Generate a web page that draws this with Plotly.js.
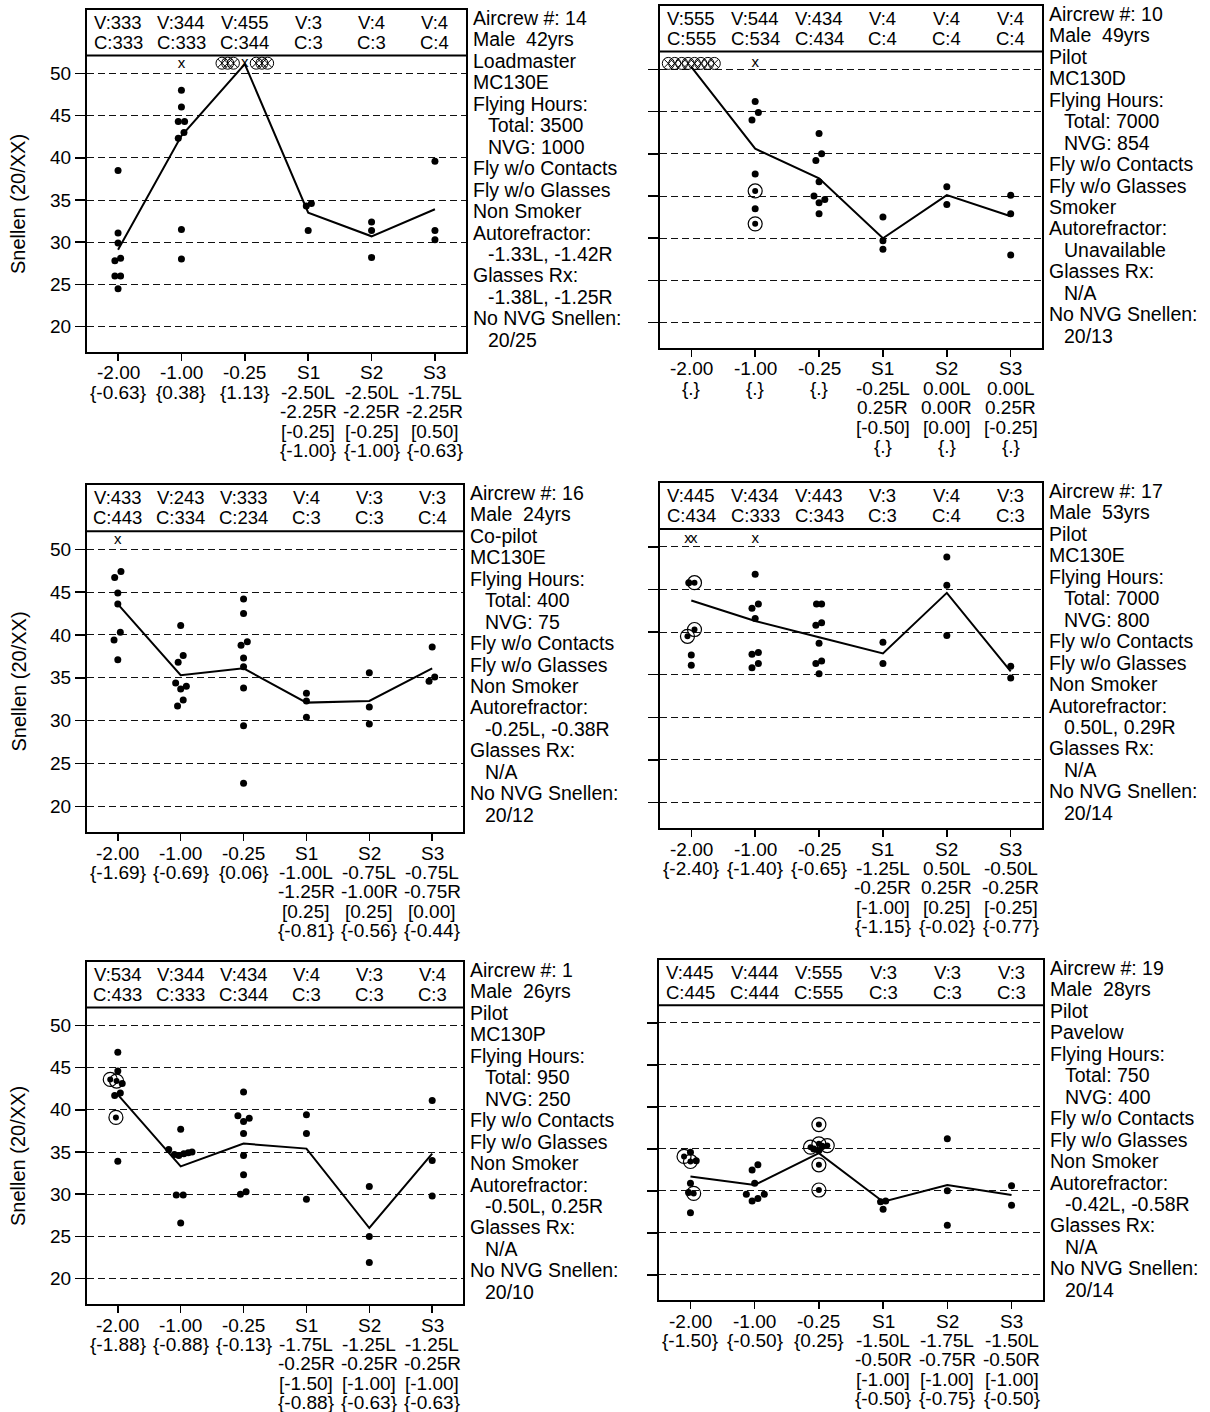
<!DOCTYPE html>
<html><head><meta charset="utf-8">
<script src="https://cdn.plot.ly/plotly-3.0.1.min.js"></script>
<style>html,body{margin:0;padding:0;background:#fff}</style>
</head><body><div id="chart" style="width:1210px;height:1412px"></div>
<script>
// ---------------- DATA ----------------
const CATS = ['-2.00','-1.00','-0.25','S1','S2','S3'];
const Y_TICKS = [20,25,30,35,40,45,50];

// Panel 1 : Aircrew 14
const p1Info = ['Aircrew #: 14','Male  42yrs','Loadmaster','MC130E','Flying Hours:','  Total: 3500','  NVG: 1000','Fly w/o Contacts','Fly w/o Glasses','Non Smoker','Autorefractor:','  -1.33L, -1.42R','Glasses Rx:','  -1.38L, -1.25R','No NVG Snellen:','  20/25'];
const p1V = ['V:333','V:344','V:455','V:3','V:4','V:4'];
const p1C = ['C:333','C:333','C:344','C:3','C:3','C:4'];
const p1XSub = [['{-0.63}'],['{0.38}'],['{1.13}'],['-2.50L','-2.25R','[-0.25]','{-1.00}'],['-2.50L','-2.25R','[-0.25]','{-1.00}'],['-1.75L','-2.25R','[0.50]','{-0.63}']];
const p1Mean = [29.1, 42.6, 51.1, 33.5, 30.7, 33.9];
// [category, value, jitter]
const p1Dots = [[0,38.5,0],[0,31.1,0],[0,29.9,0],[0,28.1,0.04],[0,27.8,-0.05],[0,26.0,-0.05],[0,26.0,0.04],[0,24.5,0],
  [1,48.0,0],[1,46.0,0],[1,44.3,-0.05],[1,44.3,0.05],[1,43.0,0.04],[1,42.3,-0.05],[1,31.5,0],[1,28.0,0],
  [3,34.6,0.05],[3,34.3,-0.03],[3,31.4,0],[4,32.4,0],[4,31.4,0],[4,28.2,0],[5,39.6,0],[5,31.4,0],[5,30.3,0]];
const p1Rings = [];
const p1CircX = [[2,51.2,-0.36],[2,51.2,-0.27],[2,51.2,-0.18],[2,51.2,0.18],[2,51.2,0.27],[2,51.2,0.36]];
const p1XMarks = [[1,51.1,0],[2,51.2,0]];

// Panel 2 : Aircrew 10
const p2Info = ['Aircrew #: 10','Male  49yrs','Pilot','MC130D','Flying Hours:','  Total: 7000','  NVG: 854','Fly w/o Contacts','Fly w/o Glasses','Smoker','Autorefractor:','  Unavailable','Glasses Rx:','  N/A','No NVG Snellen:','  20/13'];
const p2V = ['V:555','V:544','V:434','V:4','V:4','V:4'];
const p2C = ['C:555','C:534','C:434','C:4','C:4','C:4'];
const p2XSub = [['{.}'],['{.}'],['{.}'],['-0.25L','0.25R','[-0.50]','{.}'],['0.00L','0.00R','[0.00]','{.}'],['0.00L','0.25R','[-0.25]','{.}']];
const p2Mean = [50.3, 40.6, 37.1, 30.0, 35.1, 32.6];
const p2Dots = [[1,46.2,0],[1,44.9,0.05],[1,44.0,-0.05],[1,37.6,0],[1,33.5,0],
  [2,42.4,0],[2,40.0,0.04],[2,39.2,-0.05],[2,36.7,0],[2,35.0,-0.08],[2,34.6,0.09],[2,34.2,0],[2,32.9,0],
  [3,32.5,0],[3,29.7,0],[3,28.7,0],[4,36.1,0],[4,34.0,0],[5,35.1,0],[5,32.9,0],[5,28.0,0]];
const p2Rings = [[1,35.6,0],[1,31.7,0]];
const p2CircX = [[0,50.7,-0.36],[0,50.7,-0.26],[0,50.7,-0.15],[0,50.7,-0.05],[0,50.7,0.05],[0,50.7,0.15],[0,50.7,0.26],[0,50.7,0.36]];
const p2XMarks = [[1,50.7,0]];

// Panel 3 : Aircrew 16
const p3Info = ['Aircrew #: 16','Male  24yrs','Co-pilot','MC130E','Flying Hours:','  Total: 400','  NVG: 75','Fly w/o Contacts','Fly w/o Glasses','Non Smoker','Autorefractor:','  -0.25L, -0.38R','Glasses Rx:','  N/A','No NVG Snellen:','  20/12'];
const p3V = ['V:433','V:243','V:333','V:4','V:3','V:3'];
const p3C = ['C:443','C:334','C:234','C:3','C:3','C:4'];
const p3XSub = [['{-1.69}'],['{-0.69}'],['{0.06}'],['-1.00L','-1.25R','[0.25]','{-0.81}'],['-0.75L','-1.00R','[0.25]','{-0.56}'],['-0.75L','-0.75R','[0.00]','{-0.44}']];
const p3Mean = [43.6, 35.3, 36.1, 32.1, 32.3, 36.1];
const p3Dots = [[0,47.4,0.05],[0,46.7,-0.05],[0,44.9,0],[0,43.6,0],[0,40.3,0.04],[0,39.4,-0.06],[0,37.1,0],
  [1,41.1,0],[1,37.6,0.04],[1,36.8,-0.04],[1,34.4,-0.08],[1,34.0,0.09],[1,33.7,0],[1,32.4,0.04],[1,31.7,-0.05],
  [2,44.2,0],[2,42.5,0],[2,39.2,0.06],[2,38.8,-0.04],[2,37.3,0],[2,36.3,0],[2,33.8,0],[2,29.4,0],[2,22.7,0],
  [3,33.2,0],[3,32.3,0],[3,30.4,0],[4,35.6,0],[4,31.6,0],[4,29.6,0],[5,38.6,0],[5,34.6,-0.05],[5,35.1,0.04]];
const p3Rings = [];
const p3CircX = [];
const p3XMarks = [[0,51.1,0]];

// Panel 4 : Aircrew 17
const p4Info = ['Aircrew #: 17','Male  53yrs','Pilot','MC130E','Flying Hours:','  Total: 7000','  NVG: 800','Fly w/o Contacts','Fly w/o Glasses','Non Smoker','Autorefractor:','  0.50L, 0.29R','Glasses Rx:','  N/A','No NVG Snellen:','  20/14'];
const p4V = ['V:445','V:434','V:443','V:3','V:4','V:3'];
const p4C = ['C:434','C:333','C:343','C:3','C:4','C:3'];
const p4XSub = [['{-2.40}'],['{-1.40}'],['{-0.65}'],['-1.25L','-0.25R','[-1.00]','{-1.15}'],['0.50L','0.25R','[0.25]','{-0.02}'],['-0.50L','-0.25R','[-0.25]','{-0.77}']];
const p4Mean = [43.7, 41.3, 39.4, 37.5, 44.6, 35.4];
const p4Dots = [[0,45.8,-0.04],[0,37.3,0],[0,36.1,0],
  [1,46.8,0],[1,43.3,0.05],[1,42.8,-0.05],[1,41.6,0],[1,37.6,0.05],[1,37.4,-0.05],[1,36.3,0.05],[1,35.8,-0.05],
  [2,43.3,-0.04],[2,43.3,0.04],[2,41.1,0.04],[2,40.8,-0.05],[2,38.7,0],[2,36.6,0.04],[2,36.3,-0.05],[2,35.1,0],
  [3,38.8,0],[3,36.3,0],[4,48.8,0],[4,45.5,0],[4,39.6,0],[5,36.0,0],[5,34.6,0]];
const p4Rings = [[0,45.8,0.05],[0,40.3,0.05],[0,39.5,-0.06]];
const p4CircX = [];
const p4XMarks = [[0,50.9,-0.05],[0,50.9,0.04],[1,50.9,0]];

// Panel 5 : Aircrew 1
const p5Info = ['Aircrew #: 1','Male  26yrs','Pilot','MC130P','Flying Hours:','  Total: 950','  NVG: 250','Fly w/o Contacts','Fly w/o Glasses','Non Smoker','Autorefractor:','  -0.50L, 0.25R','Glasses Rx:','  N/A','No NVG Snellen:','  20/10'];
const p5V = ['V:534','V:344','V:434','V:4','V:3','V:4'];
const p5C = ['C:433','C:333','C:344','C:3','C:3','C:3'];
const p5XSub = [['{-1.88}'],['{-0.88}'],['{-0.13}'],['-1.75L','-0.25R','[-1.50]','{-0.88}'],['-1.25L','-0.25R','[-1.00]','{-0.63}'],['-1.25L','-0.25R','[-1.00]','{-0.63}']];
const p5Mean = [41.8, 33.3, 36.0, 35.4, 26.0, 34.8];
const p5Dots = [[0,46.8,0],[0,44.6,0],[0,43.1,0.07],[0,42.0,0.04],[0,41.7,-0.05],[0,33.9,0],
  [1,37.7,0],[1,35.3,-0.19],[1,34.7,-0.1],[1,34.6,-0.03],[1,34.8,0.05],[1,34.9,0.12],[1,35.0,0.18],[1,29.9,-0.07],[1,29.9,0.04],[1,26.6,0],
  [2,42.1,0],[2,39.3,-0.09],[2,39.0,0.09],[2,38.6,0],[2,37.2,0],[2,34.6,0],[2,32.3,0],[2,30.0,-0.05],[2,30.3,0.04],
  [3,39.4,0],[3,37.2,0],[3,29.4,0],[4,30.9,0],[4,25.0,0],[4,21.9,0],[5,41.1,0],[5,34.0,0],[5,29.8,0]];
const p5Rings = [[0,43.6,-0.12],[0,43.4,-0.02],[0,39.1,-0.03]];
const p5CircX = [];
const p5XMarks = [];

// Panel 6 : Aircrew 19
const p6Info = ['Aircrew #: 19','Male  28yrs','Pilot','Pavelow','Flying Hours:','  Total: 750','  NVG: 400','Fly w/o Contacts','Fly w/o Glasses','Non Smoker','Autorefractor:','  -0.42L, -0.58R','Glasses Rx:','  N/A','No NVG Snellen:','  20/14'];
const p6V = ['V:445','V:444','V:555','V:3','V:3','V:3'];
const p6C = ['C:445','C:444','C:555','C:3','C:3','C:3'];
const p6XSub = [['{-1.50}'],['{-0.50}'],['{0.25}'],['-1.50L','-0.50R','[-1.00]','{-0.50}'],['-1.75L','-0.75R','[-1.00]','{-0.75}'],['-1.50L','-0.50R','[-1.00]','{-0.50}']];
const p6Mean = [31.7, 30.7, 34.5, 28.7, 30.7, 29.5];
const p6Dots = [[0,34.6,0],[0,33.6,0.09],[0,30.9,0],[0,29.8,-0.03],[0,27.4,0],
  [1,33.1,0.05],[1,32.5,-0.04],[1,30.9,0],[1,29.6,-0.13],[1,28.8,-0.04],[1,29.1,0.05],[1,29.6,0.15],
  [2,35.0,-0.08],[2,34.8,0],[2,35.3,0.05],
  [3,28.7,-0.04],[3,28.8,0.04],[3,27.8,0],[4,36.2,0],[4,30.0,0],[4,25.9,0],[5,30.6,0],[5,28.3,0]];
const p6Rings = [[0,34.1,-0.1],[0,33.5,0],[0,29.7,0.05],[2,37.9,0],[2,35.2,-0.13],[2,35.6,0],[2,35.4,0.13],[2,33.1,0],[2,30.1,0]];
const p6CircX = [];
const p6XMarks = [];

// ---------------- LAYOUT / DRAWING ----------------
const W = 1210, H = 1412;
const FONT = '"Liberation Sans", Arial, Helvetica, sans-serif';
const YR = [17, 57.5];
const HEADER_Y = 52.1;

const panels = [
  {info:p1Info,V:p1V,C:p1C,xs:p1XSub,mean:p1Mean,dots:p1Dots,rings:p1Rings,cx:p1CircX,xm:p1XMarks,g:[87,466,10,352],left:true},
  {info:p2Info,V:p2V,C:p2C,xs:p2XSub,mean:p2Mean,dots:p2Dots,rings:p2Rings,cx:p2CircX,xm:p2XMarks,g:[660,1042,6,348],left:false},
  {info:p3Info,V:p3V,C:p3C,xs:p3XSub,mean:p3Mean,dots:p3Dots,rings:p3Rings,cx:p3CircX,xm:p3XMarks,g:[87,463,485,832],left:true},
  {info:p4Info,V:p4V,C:p4C,xs:p4XSub,mean:p4Mean,dots:p4Dots,rings:p4Rings,cx:p4CircX,xm:p4XMarks,g:[660,1042,483,828],left:false},
  {info:p5Info,V:p5V,C:p5C,xs:p5XSub,mean:p5Mean,dots:p5Dots,rings:p5Rings,cx:p5CircX,xm:p5XMarks,g:[87,463,962,1304],left:true},
  {info:p6Info,V:p6V,C:p6C,xs:p6XSub,mean:p6Mean,dots:p6Dots,rings:p6Rings,cx:p6CircX,xm:p6XMarks,g:[659,1043,960,1300],left:false}
];

const traces = [];
const annotations = [];
const shapes = [];
const layout = {
  width: W, height: H, margin: {l:0,r:0,t:0,b:0},
  paper_bgcolor: '#fff', plot_bgcolor: '#fff', showlegend: false,
  font: {family: FONT, color: '#000', size: 19},
  annotations, shapes
};

const px = v => v / W;
const py = v => 1 - v / H;
const catIdx = CATS.map((_, i) => i);

panels.forEach((p, i) => {
  const k = i + 1;
  const xs = k === 1 ? 'x' : 'x' + k;
  const ys = k === 1 ? 'y' : 'y' + k;
  const [x0, x1, top, bot] = p.g;
  layout[k === 1 ? 'xaxis' : 'xaxis' + k] = {
    domain: [px(x0), px(x1)], range: [-0.49, 5.49], anchor: ys,
    showline: true, mirror: true, linecolor: '#000', linewidth: 2,
    ticks: 'outside', ticklen: 7, tickwidth: 1.5, tickcolor: '#000',
    tickmode: 'array', tickvals: catIdx, showticklabels: false,
    showgrid: false, zeroline: false, fixedrange: true
  };
  layout[k === 1 ? 'yaxis' : 'yaxis' + k] = {
    domain: [py(bot), py(top)], range: YR, anchor: xs,
    showline: true, mirror: true, linecolor: '#000', linewidth: 2,
    ticks: 'outside', ticklen: 10, tickwidth: 1.5, tickcolor: '#000',
    tickmode: 'array', tickvals: Y_TICKS, showticklabels: p.left,
    tickfont: {size: 19, family: FONT, color: '#000'},
    showgrid: true, gridcolor: '#111', gridwidth: 1, griddash: '7px,4px',
    zeroline: false, fixedrange: true
  };
  // header divider
  shapes.push({type:'line', xref: xs + ' domain', x0: 0, x1: 1, yref: ys, y0: HEADER_Y, y1: HEADER_Y,
    line: {color:'#000', width: 2}});
  catIdx.forEach(c => {
    // header text (V / C rows)
    annotations.push({xref: xs, yref: 'paper', x: c, y: py(top + 12.5), text: p.V[c], showarrow: false,
      font: {size: 18.5}, xanchor: 'center', yanchor: 'middle', borderpad: 0});
    annotations.push({xref: xs, yref: 'paper', x: c, y: py(top + 32.5), text: p.C[c], showarrow: false,
      font: {size: 18.5}, xanchor: 'center', yanchor: 'middle', borderpad: 0});
    // x category labels (multi-line)
    const lines = [CATS[c]].concat(p.xs[c]);
    lines.forEach((t, j) => {
      annotations.push({xref: xs, yref: 'paper', x: c, y: py(bot + 21 + j * 19.4), text: t,
        showarrow: false, font: {size: 19}, xanchor: 'center', yanchor: 'middle', borderpad: 0});
    });
  });
  // right info text
  p.info.forEach((t, j) => {
    const indent = t.startsWith('  ');
    annotations.push({xref: 'paper', yref: 'paper', x: px(x1 + 6), y: py(top + 8 + j * 21.45),
      text: t.trim(), showarrow: false, xanchor: 'left', yanchor: 'middle', borderpad: 0,
      xshift: indent ? 15 : 0, font: {size: 19.5}});
  });
  // y title
  if (p.left) {
    annotations.push({xref: 'paper', yref: 'paper', x: px(18), y: py((top + 46 + bot) / 2),
      text: 'Snellen (20/XX)', textangle: -90, showarrow: false, xanchor: 'center', yanchor: 'middle',
      font: {size: 20}});
  }
  // mean line
  traces.push({type:'scatter', mode:'lines', xaxis: xs, yaxis: ys, x: catIdx, y: p.mean,
    line: {color:'#000', width: 2}, hoverinfo: 'skip'});
  // dots
  traces.push({type:'scatter', mode:'markers', xaxis: xs, yaxis: ys,
    x: p.dots.map(d => d[0] + d[2]), y: p.dots.map(d => d[1]),
    marker: {color:'#000', size: 7}, hoverinfo: 'skip'});
  // ringed dots
  if (p.rings.length) {
    traces.push({type:'scatter', mode:'markers', xaxis: xs, yaxis: ys,
      x: p.rings.map(d => d[0] + d[2]), y: p.rings.map(d => d[1]),
      marker: {color:'#000', size: 6}, hoverinfo: 'skip'});
    traces.push({type:'scatter', mode:'markers', xaxis: xs, yaxis: ys,
      x: p.rings.map(d => d[0] + d[2]), y: p.rings.map(d => d[1]),
      marker: {symbol:'circle-open', color:'#000', size: 14, line: {color:'#000', width: 1.2}}, hoverinfo: 'skip'});
  }
  // circled x
  if (p.cx.length) {
    traces.push({type:'scatter', mode:'markers', xaxis: xs, yaxis: ys,
      x: p.cx.map(d => d[0] + d[2]), y: p.cx.map(d => d[1]),
      marker: {symbol:'circle-x-open', color:'#000', size: 12, line: {color:'#000', width: 1}}, hoverinfo: 'skip'});
  }
  // x marks
  if (p.xm.length) {
    traces.push({type:'scatter', mode:'text', xaxis: xs, yaxis: ys,
      x: p.xm.map(d => d[0] + d[2]), y: p.xm.map(d => d[1]), text: p.xm.map(() => 'x'),
      textposition: 'middle center', textfont: {size: 15, color:'#000', family: FONT}, hoverinfo: 'skip'});
  }
});

Plotly.newPlot('chart', traces, layout, {staticPlot: true, displayModeBar: false});
</script>
</body></html>
